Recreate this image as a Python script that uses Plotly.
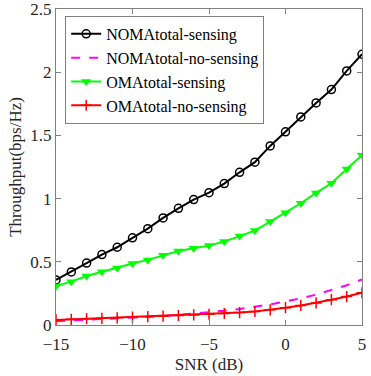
import plotly.graph_objects as go

snr = list(range(-15, 6))
noma_sensing = [0.356, 0.42, 0.49, 0.557, 0.615, 0.69, 0.762, 0.847, 0.923, 0.992, 1.047,
                1.119, 1.208, 1.288, 1.417, 1.528, 1.646, 1.757, 1.863, 2.01, 2.142]
noma_no_sensing = [0.03, 0.035, 0.04, 0.045, 0.05, 0.055, 0.062, 0.07, 0.08, 0.09, 0.10,
                   0.113, 0.127, 0.143, 0.163, 0.186, 0.21, 0.24, 0.275, 0.315, 0.36]
oma_sensing = [0.309, 0.343, 0.388, 0.422, 0.451, 0.486, 0.515, 0.551, 0.586, 0.607, 0.628,
               0.66, 0.705, 0.747, 0.818, 0.889, 0.963, 1.045, 1.121, 1.235, 1.343]
oma_no_sensing = [0.04, 0.045, 0.05, 0.053, 0.057, 0.062, 0.066, 0.07, 0.075, 0.08, 0.085,
                  0.091, 0.098, 0.107, 0.12, 0.137, 0.155, 0.175, 0.2, 0.225, 0.255]

x_ticks = [-15, -10, -5, 0, 5]
y_ticks = [0, 0.5, 1, 1.5, 2, 2.5]
y_tick_text = ["0", "0.5", "1", "1.5", "2", "2.5"]

font = "Liberation Serif, Times New Roman, serif"
axis_col = "#262626"

fig = go.Figure()
fig.add_trace(go.Scatter(x=snr, y=noma_sensing, name="NOMAtotal-sensing", mode="lines+markers",
                         line=dict(color="black", width=2),
                         marker=dict(symbol="circle-open", size=8, color="black", line=dict(width=1.5))))
fig.add_trace(go.Scatter(x=snr, y=noma_no_sensing, name="NOMAtotal-no-sensing", mode="lines",
                         line=dict(color="#ff00ff", width=2, dash="dash")))
fig.add_trace(go.Scatter(x=snr, y=oma_sensing, name="OMAtotal-sensing", mode="lines+markers",
                         line=dict(color="#00ff00", width=2),
                         marker=dict(symbol="triangle-down", size=9, color="#00ff00")))
fig.add_trace(go.Scatter(x=snr, y=oma_no_sensing, name="OMAtotal-no-sensing", mode="lines+markers",
                         line=dict(color="#ff0000", width=2),
                         marker=dict(symbol="cross-thin", size=8, color="#ff0000",
                                     line=dict(width=1.5, color="#ff0000"))))

axis_common = dict(showline=True, linecolor="#808080", linewidth=1, mirror="ticks",
                   ticks="inside", ticklen=5, tickcolor="#808080", showgrid=False, zeroline=False,
                   automargin=False, ticklabeloverflow="allow",
                   tickfont=dict(family=font, size=17, color=axis_col))
fig.update_xaxes(range=[-15, 5], tickvals=x_ticks, ticklabelstandoff=4,
                 title=dict(text="SNR (dB)", standoff=4,
                            font=dict(family=font, size=17, color=axis_col)), **axis_common)
fig.update_yaxes(range=[0, 2.5], tickvals=y_ticks, ticktext=y_tick_text,
                 title=dict(text="Throughput(bps/Hz)", standoff=4,
                            font=dict(family=font, size=17, color=axis_col)), **axis_common)

fig.update_layout(width=371, height=376, margin=dict(l=56, r=9, t=9, b=51),
                  plot_bgcolor="white", paper_bgcolor="white",
                  font=dict(family=font, size=16, color="black"),
                  legend=dict(x=0.03, y=0.978, xanchor="left", yanchor="top",
                              bgcolor="white", bordercolor="#808080", borderwidth=1,
                              font=dict(family=font, size=16, color="black"),
                              tracegroupgap=0, itemwidth=30))
fig.write_html("out.html", config={"displayModeBar": False},
               post_script="document.body.style.margin='0';")
